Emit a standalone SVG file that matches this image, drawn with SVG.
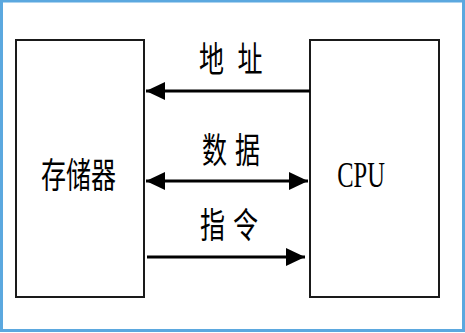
<svg xmlns="http://www.w3.org/2000/svg" width="465" height="333" viewBox="0 0 465 333">
<style>
.box{fill:#fff;stroke:#1a1a1a;stroke-width:2}
.cjk{font-family:"Noto Sans CJK SC","Noto Sans",sans-serif;font-size:25px;fill:#000;text-anchor:middle}
.mono{font-family:"Liberation Serif",serif;font-size:24.5px;fill:#000;text-anchor:middle}
.conn{stroke:#000;stroke-width:3;fill:none}
</style>
<defs>
<marker id="ah" markerUnits="userSpaceOnUse" markerWidth="20" markerHeight="20" refX="19" refY="9" orient="auto-start-reverse" viewBox="0 0 20 20">
<path d="M0,0 L19,9 L0,18 z" fill="#000"/>
</marker>
</defs>
<rect x="0" y="0" width="465" height="333" fill="#fff"/>
<rect x="1.5" y="1" width="462" height="329.5" fill="none" stroke="#5BA8DF" stroke-width="3"/>
<g id="memory">
<rect class="box" x="16" y="40" width="128" height="257"/>
<text class="cjk" transform="translate(78.5,188) scale(1,1.4)">存储器</text>
</g>
<g id="cpu">
<rect class="box" x="310" y="40" width="129" height="257"/>
<text class="mono" transform="translate(361,187) scale(1,1.5)">CPU</text>
</g>
<g id="connectors">
<line class="conn" x1="310" y1="91" x2="146" y2="91" marker-end="url(#ah)"/>
<line class="conn" x1="146" y1="181" x2="308" y2="181" marker-start="url(#ah)" marker-end="url(#ah)"/>
<line class="conn" x1="147" y1="257" x2="305" y2="257" marker-end="url(#ah)"/>
</g>
<g id="labels">
<text class="cjk" transform="translate(0,72) scale(1,1.4)"><tspan x="211.5">地</tspan><tspan x="250">址</tspan></text>
<text class="cjk" transform="translate(0,163) scale(1,1.4)"><tspan x="214.5">数</tspan><tspan x="247.5">据</tspan></text>
<text class="cjk" transform="translate(0,238) scale(1,1.4)"><tspan x="212.5">指</tspan><tspan x="245.5">令</tspan></text>
</g>
</svg>
